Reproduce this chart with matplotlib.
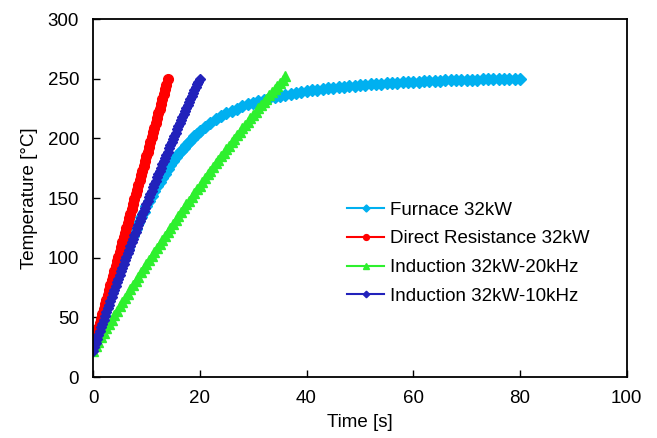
import numpy as np
import matplotlib
matplotlib.use("Agg")
import matplotlib.pyplot as plt

plt.rcParams['font.family'] = ['Liberation Sans', 'DejaVu Sans']

# Furnace 32kW: 0.5 s samples up to 19.5 s, then 1 s samples up to 80 s
t_furnace = np.r_[np.arange(0, 20, 0.5), np.arange(20, 81, 1.0)]
temp_furnace = [
    25, 32, 39, 45.5, 52, 59, 66, 72.5, 79, 85, 91, 96.5, 102, 107.5, 113,
    118.5, 124, 129, 134, 138.5, 143, 147.5, 152, 156, 160, 163.5, 167,
    170.5, 174, 177.5, 181, 184, 187, 189.5, 192, 194.5, 197, 199.5, 202, 204,
    206, 209.5, 213, 216, 218.5, 221, 223, 225, 227, 228.5, 230, 231.3,
    232.5, 233.6, 234.6, 235.5, 236.4, 237.2, 238, 238.9, 239.6, 240.2,
    240.8, 241.4, 241.9, 242.4, 242.9, 243.3, 243.7, 244.1, 244.5, 244.8,
    245.2, 245.5, 245.8, 246.1, 246.4, 246.7, 246.9, 247.2, 247.4, 247.6,
    247.8, 248, 248.2, 248.4, 248.5, 248.7, 248.8, 249, 249.1, 249.2, 249.3,
    249.4, 249.5, 249.6, 249.7, 249.7, 249.8, 249.9, 250,
]

# Direct Resistance 32kW: 0.25 s samples
step_dr = 0.25
temp_dr = [
    25, 29, 33, 37, 41, 45, 49, 53, 57, 61, 65, 69, 73, 77, 81, 85, 89, 93,
    97, 101, 105, 109, 113, 117, 121, 125, 129, 133, 137, 141, 145, 149, 153,
    157, 161, 165, 169, 173, 177, 181, 185, 189, 193, 197, 201, 205, 209, 213,
    217, 221, 225, 229, 233, 237, 241, 245, 250,
]

# Induction 32kW-20kHz: 0.5 s samples
step_i20 = 0.5
temp_i20 = [
    22.0, 25.8, 29.6, 33.3, 37.1, 40.8, 44.5, 48.2, 51.9, 55.5, 59.2, 62.8,
    66.4, 70.0, 73.5, 77.1, 80.6, 84.2, 87.7, 91.2, 94.6, 98.1, 101.5, 104.9,
    108.3, 111.7, 115.1, 118.5, 121.8, 125.1, 128.4, 131.7, 135.0, 138.2,
    141.5, 144.7, 147.9, 151.1, 154.2, 157.4, 160.5, 163.6, 166.7, 169.8,
    172.9, 175.9, 179.0, 182.0, 185.0, 188.0, 190.9, 193.9, 196.8, 199.7,
    202.6, 205.5, 208.4, 211.2, 214.1, 216.9, 219.7, 222.5, 225.2, 228.0,
    230.7, 233.4, 236.1, 238.8, 241.4, 244.1, 246.7, 249.3, 251.9,
]

# Induction 32kW-10kHz: 0.25 s samples
step_i10 = 0.25
temp_i10 = [
    22.0, 25.3, 28.6, 31.8, 35.1, 38.3, 41.6, 44.8, 48.0, 51.2, 54.4, 57.5,
    60.7, 63.9, 67.0, 70.1, 73.3, 76.4, 79.5, 82.6, 85.6, 88.7, 91.8, 94.8,
    97.8, 100.9, 103.9, 106.9, 109.9, 112.8, 115.8, 118.8, 121.7, 124.6,
    127.6, 130.5, 133.4, 136.3, 139.1, 142.0, 144.9, 147.7, 150.5, 153.4,
    156.2, 159.0, 161.8, 164.5, 167.3, 170.1, 172.8, 175.5, 178.3, 181.0,
    183.7, 186.4, 189.0, 191.7, 194.4, 197.0, 199.6, 202.3, 204.9, 207.5,
    210.1, 212.6, 215.2, 217.8, 220.3, 222.8, 225.4, 227.9, 230.4, 232.9,
    235.4, 237.8, 240.3, 242.7, 245.2, 247.6, 250.0,
]

t_dr = np.arange(len(temp_dr)) * step_dr
t_i20 = np.arange(len(temp_i20)) * step_i20
t_i10 = np.arange(len(temp_i10)) * step_i10

fig = plt.figure(figsize=(6.57, 4.38), dpi=100)
ax = fig.add_axes([0.1416, 0.139, 0.8124, 0.8176])

ax.plot(t_furnace, temp_furnace, color='#00B0F0', lw=1.5, marker='D',
        ms=6, mec='#00B0F0', label='Furnace 32kW')
ax.plot(t_dr, temp_dr, color='#FF0000', lw=1.5, marker='o',
        ms=7, mec='#FF0000', label='Direct Resistance 32kW')
ax.plot(t_i20, temp_i20, color='#2EF02E', lw=1.5, marker='^',
        ms=7, mec='#2EF02E', label='Induction 32kW-20kHz')
ax.plot(t_i10, temp_i10, color='#2222BB', lw=1.5, marker='D',
        ms=5.5, mec='#2222BB', label='Induction 32kW-10kHz')

ax.set_xlim(0, 100)
ax.set_ylim(0, 300)
ax.set_xticks(np.arange(0, 101, 20))
ax.set_yticks(np.arange(0, 301, 50))
ax.tick_params(direction='in', length=5, width=1, labelsize=13.5)
ax.tick_params(axis='x', pad=9)
ax.tick_params(axis='y', pad=10)
for s in ax.spines.values():
    s.set_linewidth(1.3)

ax.set_xlabel('Time [s]', fontsize=13.5, labelpad=5)
ax.set_ylabel('Temperature [°C]', fontsize=13.5, labelpad=7)

ax.legend(loc='center left', bbox_to_anchor=(0.444, 0.346), frameon=False,
          fontsize=13.5, handlelength=2.0, handletextpad=0.3,
          labelspacing=0.62, markerscale=0.6, numpoints=1)

fig.savefig('out.png', dpi=100)
